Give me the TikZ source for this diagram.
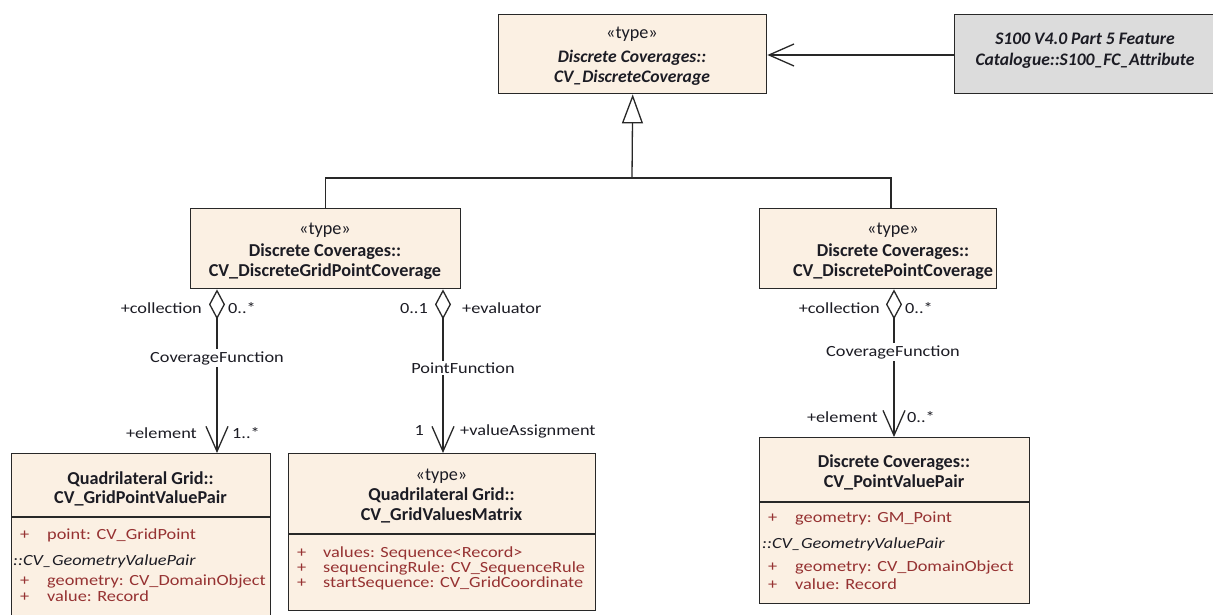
\documentclass[tikz,border=0pt]{standalone}
\usepackage{fontspec}
\setmainfont{Carlito}
\newfontfamily\widefont[FakeStretch=1.18]{Carlito}
\usetikzlibrary{arrows.meta}
\definecolor{boxfill}{RGB}{251,240,227}
\definecolor{grayfill}{RGB}{220,220,220}
\definecolor{attrred}{RGB}{150,50,50}
\definecolor{ink}{RGB}{28,28,36}
\definecolor{edge}{RGB}{40,40,40}
\begin{document}
\begin{tikzpicture}[x=1pt,y=-1pt,
  classbox/.style={draw=edge, line width=1.4pt, fill=boxfill, inner sep=0pt, anchor=north west},
  extbox/.style={classbox, fill=grayfill},
  hd/.style={font=\fontsize{18.2}{20}\selectfont, text=ink, anchor=base, inner sep=0pt},
  hdb/.style={hd, font=\fontsize{18.2}{20}\selectfont\bfseries},
  hdbi/.style={hd, font=\fontsize{17.6}{20}\selectfont\bfseries\itshape},
  attr/.style={font=\widefont\fontsize{15.5}{17}\selectfont, text=attrred, anchor=base west, inner sep=0pt},
  inh/.style={font=\widefont\fontsize{15.5}{17}\selectfont\itshape, text=ink, anchor=base west, inner sep=0pt},
  role/.style={font=\widefont\fontsize{15.5}{17}\selectfont, text=ink, anchor=base, inner sep=0pt},
  assocname/.style={role, anchor=center, fill=white, inner sep=2pt},
  link/.style={draw=edge, line width=1.3pt},
  gen/.style={link, -{Triangle[open, length=29pt, width=21pt, line width=1.3pt]}},
  nav/.style={link, -{Straight Barb[length=25pt, width=22pt, line width=1.3pt]}},
  agg/.style={link, {Diamond[open, length=30pt, width=16pt, line width=1.3pt]}-{Straight Barb[length=25pt, width=22pt, line width=1.3pt]}}
]
\useasboundingbox (0,0) rectangle (1213,615);
\clip (0,0) rectangle (1213,615);
\fill[white] (0,0) rectangle (1213,615);

% ---------- classes ----------
\node[classbox, minimum width=268pt, minimum height=79pt] (dc) at (498,14) {};
\node[hd] (dc1) at (632,38.5) {«type»};
\node[hdbi] (dc2) at (632,62.5) {Discrete Coverages::};
\node[hdbi] (dc3) at (632,82.5) {CV\_DiscreteCoverage};

\node[extbox, minimum width=262pt, minimum height=79pt] (fc) at (954,14) {};
\node[hdbi] (fc1) at (1085,44.5) {S100 V4.0 Part 5 Feature};
\node[hdbi] (fc2) at (1085,65.5) {Catalogue::S100\_FC\_Attribute};

\node[classbox, minimum width=270pt, minimum height=80pt] (dgpc) at (190,208) {};
\node[hd] (dgpc1) at (325,234.5) {«type»};
\node[hdb] (dgpc2) at (325,256.5) {Discrete Coverages::};
\node[hdb] (dgpc3) at (325,276) {CV\_DiscreteGridPointCoverage};

\node[classbox, minimum width=237pt, minimum height=80pt] (dpc) at (759,208) {};
\node[hd] (dpc1) at (893,234.5) {«type»};
\node[hdb] (dpc2) at (893,256.5) {Discrete Coverages::};
\node[hdb] (dpc3) at (893,276) {CV\_DiscretePointCoverage};

% grid point value pair
\node[classbox, minimum width=259pt, minimum height=180pt] (gpvp) at (11,453) {};
\node[hdb] (gpvp1) at (140.5,484.5) {Quadrilateral Grid::};
\node[hdb] (gpvp2) at (140.5,503.5) {CV\_GridPointValuePair};
\draw[draw=edge, line width=1.4pt] (gpvp.west |- 0,517) -- (gpvp.east |- 0,517);
\node[attr] (gpvpa1p) at (20,539) {+};
\node[attr] (gpvpa1) at (47,539) {point: CV\_GridPoint};
\node[inh] (gpvpi) at (13,565) {::CV\_GeometryValuePair};
\node[attr] (gpvpa2p) at (20,585) {+};
\node[attr] (gpvpa2) at (47,585) {geometry: CV\_DomainObject};
\node[attr] (gpvpa3p) at (20,601) {+};
\node[attr] (gpvpa3) at (47,601) {value: Record};

% grid values matrix
\node[classbox, minimum width=307pt, minimum height=157pt] (gvm) at (288,453) {};
\node[hd] (gvm1) at (441.5,480.5) {«type»};
\node[hdb] (gvm2) at (441.5,500.5) {Quadrilateral Grid::};
\node[hdb] (gvm3) at (441.5,520.5) {CV\_GridValuesMatrix};
\draw[draw=edge, line width=1.4pt] (gvm.west |- 0,534) -- (gvm.east |- 0,534);
\node[attr] (gvma1p) at (297,557) {+};
\node[attr] (gvma1) at (323,557) {values: Sequence<Record>};
\node[attr] (gvma2p) at (297,572) {+};
\node[attr] (gvma2) at (323,572) {sequencingRule: CV\_SequenceRule};
\node[attr] (gvma3p) at (297,587) {+};
\node[attr] (gvma3) at (323,587) {startSequence: CV\_GridCoordinate};

% point value pair
\node[classbox, minimum width=270pt, minimum height=166pt] (pvp) at (759,437) {};
\node[hdb] (pvp1) at (894,467.5) {Discrete Coverages::};
\node[hdb] (pvp2) at (894,487.5) {CV\_PointValuePair};
\draw[draw=edge, line width=1.4pt] (pvp.west |- 0,502) -- (pvp.east |- 0,502);
\node[attr] (pvpa1p) at (768,522) {+};
\node[attr] (pvpa1) at (795,522) {geometry: GM\_Point};
\node[inh] (pvpi) at (762,548) {::CV\_GeometryValuePair};
\node[attr] (pvpa2p) at (768,571) {+};
\node[attr] (pvpa2) at (795,571) {geometry: CV\_DomainObject};
\node[attr] (pvpa3p) at (768,589) {+};
\node[attr] (pvpa3) at (795,589) {value: Record};

% ---------- relations ----------
\draw[nav] (fc.west |- 0,55) -- (dc.east |- 0,55);

\coordinate (genjoin) at (632,178);
\draw[link] (dgpc.north) |- (genjoin) -| (dpc.north -| 891,0);
\draw[gen] (genjoin) -- (dc.south);

% CoverageFunction (grid)
\draw[agg] (dgpc.south -| 217,0) -- (gpvp.north -| 217,0);
\node[assocname] (cf1) at (217,358) {CoverageFunction};
\node[role, anchor=base east] (cf1s) at (202,313) {+collection};
\node[role, anchor=base west] (cf1sm) at (228,313) {0..*};
\node[role, anchor=base east] (cf1e) at (197,438) {+element};
\node[role, anchor=base west] (cf1em) at (232,438) {1..*};

% PointFunction
\draw[agg] (dgpc.south -| 443,0) -- (gvm.north -| 443,0);
\node[assocname] (pf) at (463,368) {PointFunction};
\node[role, anchor=base east] (pfsm) at (428,313) {0..1};
\node[role, anchor=base west] (pfs) at (462,313) {+evaluator};
\node[role, anchor=base east] (pfem) at (424,435) {1};
\node[role, anchor=base west] (pfe) at (460,435) {+valueAssignment};

% CoverageFunction (point)
\draw[agg] (dpc.south -| 894,0) -- (pvp.north -| 894,0);
\node[assocname] (cf2) at (893,352) {CoverageFunction};
\node[role, anchor=base east] (cf2s) at (880,313) {+collection};
\node[role, anchor=base west] (cf2sm) at (905,313) {0..*};
\node[role, anchor=base east] (cf2e) at (878,422) {+element};
\node[role, anchor=base west] (cf2em) at (907,422) {0..*};
\end{tikzpicture}
\end{document}
